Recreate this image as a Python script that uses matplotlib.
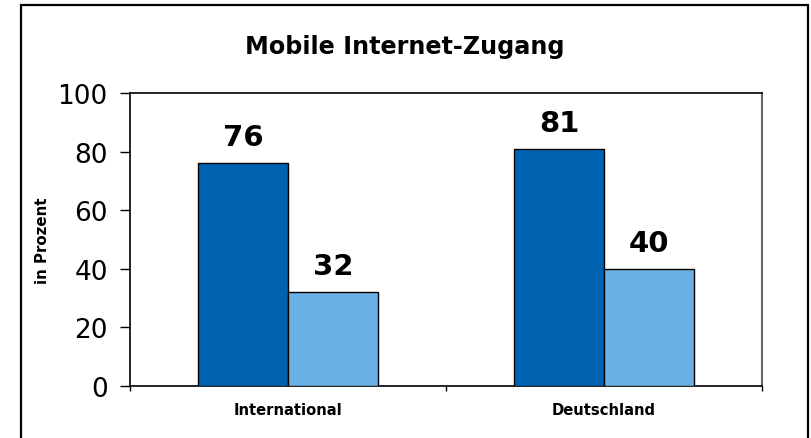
import matplotlib
matplotlib.use("Agg")
import matplotlib.pyplot as plt
from matplotlib.patches import Rectangle
import numpy as np

categories = ["International", "Deutschland"]
series_dark = [76, 81]
series_light = [32, 40]
yticks = [0, 20, 40, 60, 80, 100]

W, H = 812, 439
fig = plt.figure(figsize=(W / 100, H / 100), dpi=100)
plt.rcParams['font.family'] = ['DejaVu Sans']

ax = fig.add_axes([130 / W, 1 - 386.7 / H, (762 - 130) / W, (386.7 - 94) / H])

x = np.arange(len(categories))
bw = 0.285
ax.bar(x - bw / 2, series_dark, width=bw, color="#0063B1", edgecolor="black", linewidth=1.0, zorder=3)
ax.bar(x + bw / 2, series_light, width=bw, color="#6CB1E6", edgecolor="black", linewidth=1.0, zorder=3)

for xi, v in zip(x - bw / 2, series_dark):
    ax.annotate(str(v), (xi, v), xytext=(0, 8.5), textcoords="offset points",
                ha="center", va="bottom", fontsize=21, fontweight="bold")
for xi, v in zip(x + bw / 2, series_light):
    ax.annotate(str(v), (xi, v), xytext=(0, 8.5), textcoords="offset points",
                ha="center", va="bottom", fontsize=21, fontweight="bold")

ax.set_xlim(-0.5, len(categories) - 0.5)
ax.set_ylim(0, 100)
ax.set_yticks(yticks)
ax.set_yticklabels([str(t) for t in yticks], fontsize=19)
ax.tick_params(axis="y", direction="out", length=7, width=1, pad=9)

ax.set_xticks([-0.5, 0.5, 1.5])
ax.set_xticklabels([])
ax.tick_params(axis="x", direction="out", length=3.5, width=1)
for xi, c in zip(x, categories):
    ax.text(xi, -0.08, c, transform=ax.get_xaxis_transform(), ha="center", va="center",
            fontsize=10.6, fontweight="bold")

for s in ["left", "bottom", "top"]:
    ax.spines[s].set_color("black")
    ax.spines[s].set_linewidth(1.2)
ax.spines["right"].set_color("#666666")
ax.spines["right"].set_linewidth(1.5)

ax.set_ylabel("in Prozent", fontsize=10.8, fontweight="bold")
ax.yaxis.set_label_coords(-0.126, 0.5)

fig.text(405 / W, 1 - 54.3 / H, "Mobile Internet-Zugang", ha="center", va="baseline",
         fontsize=17.2, fontweight="bold")

border = Rectangle((21.5 / W, -0.05), (808 - 21.5) / W, 1.05 - 6 / H,
                   transform=fig.transFigure, fill=False, edgecolor="black", linewidth=1.6)
fig.patches.append(border)

fig.savefig("out.png", dpi=100)
